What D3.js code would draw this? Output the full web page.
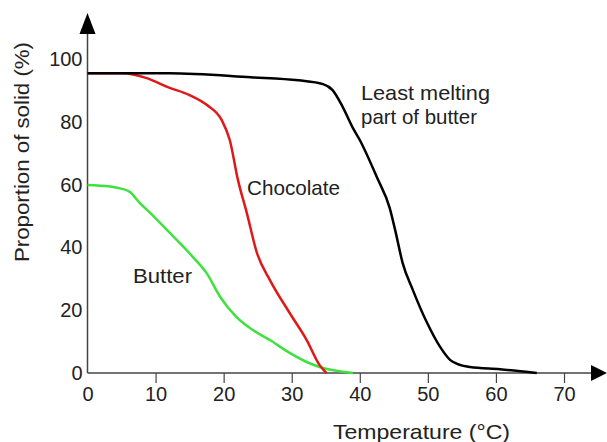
<!DOCTYPE html>
<html>
<head>
<meta charset="utf-8">
<script src="https://cdn.jsdelivr.net/npm/d3@7"></script>
<style>
  html, body { margin: 0; padding: 0; background: #fff; }
  svg { display: block; font-family: "Liberation Sans", Arial, sans-serif; }
</style>
</head>
<body>
<svg id="chart" width="607" height="442"></svg>
<script>
// ---- data (temperature °C, proportion of solid %) ----
const xTicks = [0, 10, 20, 30, 40, 50, 60, 70];
const yTicks = [0, 20, 40, 60, 80, 100];

const leastMeltingTemp  = [0, 12, 24, 31, 34.6, 36.0, 37.5, 39.0, 40.0, 42.5, 44.4, 45.2, 46.3, 47.8, 49.9, 51.8, 53.3, 54.3, 56.2, 60.6, 66];
const leastMeltingSolid = [95.5, 95.5, 94.2, 93.2, 92.0, 90.1, 84.7, 78.0, 74.2, 62.4, 52.5, 45.5, 35.0, 26.4, 15.9, 8.3, 4.1, 2.9, 1.9, 1.2, 0];

const chocolateTemp  = [0, 5.2, 8.7, 11.7, 15.0, 17.5, 19.7, 20.9, 22.1, 23.4, 24.9, 26.8, 29.7, 32.2, 34.1, 35.1];
const chocolateSolid = [95.5, 95.5, 93.9, 91.1, 88.5, 85.4, 80.6, 74.2, 61.5, 51.0, 38.2, 29.6, 19.1, 10.5, 2.5, 0];

const butterTemp  = [0, 3.3, 4.8, 6.2, 7.7, 9.2, 12.1, 15.5, 17.5, 19.5, 21.9, 24.3, 26.8, 29.7, 32.2, 34.1, 39.0];
const butterSolid = [59.9, 59.4, 58.8, 57.7, 54.1, 51.0, 44.6, 36.9, 31.8, 24.2, 17.8, 13.7, 10.5, 6.4, 3.5, 1.9, 0];

const seriesNames = ["Least melting", "Chocolate", "Butter"];
const xTitle = "Temperature (°C)";
const yTitle = "Proportion of solid (%)";

// ---- drawing ----
const svg = d3.select("#chart");
const x = d3.scaleLinear().domain([0, 70]).range([87.5, 564]);
const y = d3.scaleLinear().domain([0, 100]).range([373, 59]);
const textColor = "#222";
const axisColor = "#444";

// y axis line + arrow
svg.append("line").attr("x1", x(0)).attr("x2", x(0)).attr("y1", y(0)).attr("y2", 30)
  .attr("stroke", axisColor).attr("stroke-width", 1.5);
svg.append("path").attr("d", `M${x(0)},13 L${x(0) - 8},34 L${x(0) + 8},34 Z`).attr("fill", "#000");

// x axis line + arrow
svg.append("line").attr("x1", x(0)).attr("x2", 595).attr("y1", y(0)).attr("y2", y(0))
  .attr("stroke", axisColor).attr("stroke-width", 1.5);
svg.append("path").attr("d", `M607,${y(0)} L591,${y(0) - 8} L591,${y(0) + 8} Z`).attr("fill", "#000");

// x ticks
const xAxis = svg.append("g").attr("transform", `translate(0,${y(0)})`)
  .call(d3.axisBottom(x).tickValues(xTicks).tickSize(10).tickPadding(4).tickFormat(d3.format("d")));
xAxis.select(".domain").remove();
xAxis.selectAll(".tick line").attr("stroke", axisColor).attr("stroke-width", 1.2)
  .filter(d => d === 0).remove();
xAxis.selectAll(".tick text").attr("fill", textColor).attr("font-size", 20)
  .attr("font-family", "Liberation Sans, Arial, sans-serif");

// y ticks (labels only)
const yAxis = svg.append("g").attr("transform", `translate(${x(0)},0)`)
  .call(d3.axisLeft(y).tickValues(yTicks).tickSize(0).tickPadding(5).tickFormat(d3.format("d")));
yAxis.select(".domain").remove();
yAxis.selectAll(".tick text").attr("fill", textColor).attr("font-size", 20)
  .attr("font-family", "Liberation Sans, Arial, sans-serif");

// lines
const line = d3.line().x(d => x(d[0])).y(d => y(d[1])).curve(d3.curveMonotoneX);
const series = [
  { t: leastMeltingTemp, s: leastMeltingSolid, color: "#000000" },
  { t: chocolateTemp, s: chocolateSolid, color: "#e01818" },
  { t: butterTemp, s: butterSolid, color: "#3ee23e" }
];
series.slice().reverse().forEach(sr => {
  svg.append("path").datum(sr.t.map((t, i) => [t, sr.s[i]]))
    .attr("d", line).attr("fill", "none").attr("stroke", sr.color)
    .attr("stroke-width", 2.5).attr("stroke-linejoin", "round");
});

// annotations
function label(txt, px, py, len, size) {
  svg.append("text").attr("x", px).attr("y", py).text(txt)
    .attr("fill", textColor).attr("font-size", size || 21)
    .attr("textLength", len).attr("lengthAdjust", "spacingAndGlyphs");
}
label(seriesNames[0], 361, 100, 129);
label("part of butter", 361, 124, 116);
label(seriesNames[1], 247, 195, 93);
label(seriesNames[2], 133, 283, 59);

// axis titles
label(xTitle, 333, 439, 177);
svg.append("text").attr("transform", "translate(29,262) rotate(-90)").text(yTitle)
  .attr("fill", textColor).attr("font-size", 21)
  .attr("textLength", 220).attr("lengthAdjust", "spacingAndGlyphs");
</script>
</body>
</html>
